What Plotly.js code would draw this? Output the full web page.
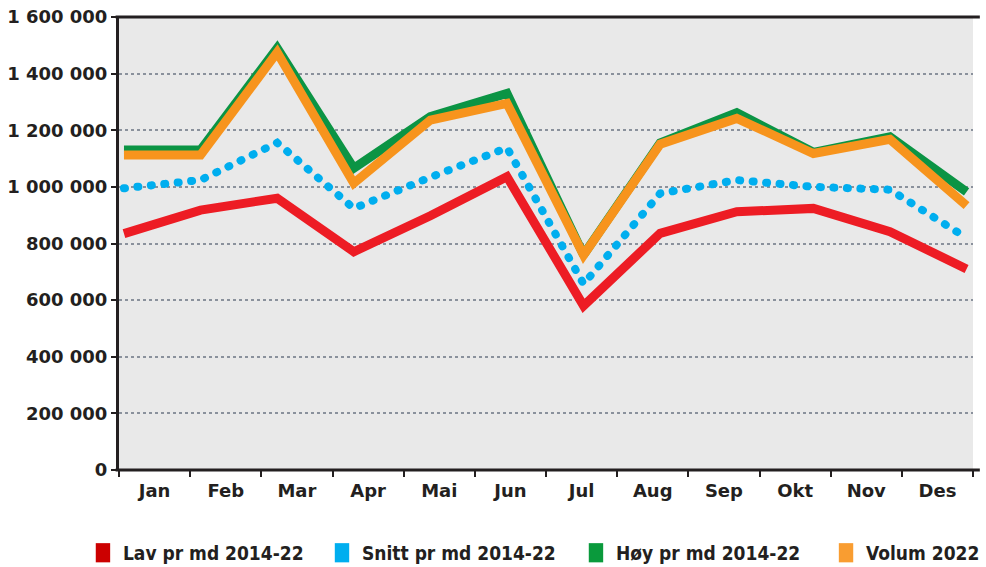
<!DOCTYPE html>
<html>
<head>
<meta charset="utf-8">
<script src="https://cdn.plot.ly/plotly-3.0.1.min.js"></script>
<style>
  html, body { margin: 0; padding: 0; background: #ffffff; }
  #chart { width: 986px; height: 567px; }
  .scatterlayer .trace:nth-child(2) .js-line { stroke-linecap: round; }
  .legendpoints path { transform: translate(20px, 0px) scale(1.2, 1.6); }
</style>
</head>
<body>
<div id="chart"></div>
<script>
// Category labels
const months = ["Jan", "Feb", "Mar", "Apr", "Mai", "Jun", "Jul", "Aug", "Sep", "Okt", "Nov", "Des"];

// Series values
const lav    = [835000, 918000, 960000, 771000, 898000, 1036000, 580000, 836000, 912000, 924000, 842000, 710000];
const snitt  = [995000, 1024000, 1156000, 924000, 1034000, 1138000, 657000, 977000, 1024000, 1000000, 990000, 820000];
const hoy    = [1130000, 1130000, 1490000, 1066000, 1248000, 1330000, 760000, 1155000, 1262000, 1122000, 1177000, 982000];
const volum  = [1113000, 1113000, 1475000, 1013000, 1236000, 1295000, 759000, 1151000, 1242000, 1118000, 1168000, 934000];

const seriesNames = ["Lav pr md 2014-22", "Snitt pr md 2014-22", "Høy pr md 2014-22", "Volum 2022"];
const yTicks = [0, 200000, 400000, 600000, 800000, 1000000, 1200000, 1400000, 1600000];

const idx = months.map((m, i) => i);
const dark = "#231f20";
const colors = { lav: "#ed1c24", snitt: "#00aeef", hoy: "#0b9444", volum: "#f7941d" };
const legendColors = ["#cc0000", "#00aeef", "#0a9a3c", "#f99d31"];

const traces = [
  { type: "scatter", mode: "lines", x: idx, y: lav, xaxis: "x", yaxis: "y",
    line: { color: colors.lav, width: 9 }, showlegend: false, hoverinfo: "skip" },
  { type: "scatter", mode: "lines", x: idx, y: snitt, xaxis: "x", yaxis: "y",
    line: { color: colors.snitt, width: 8, dash: "1px,12.5px" }, showlegend: false, hoverinfo: "skip" },
  { type: "scatter", mode: "lines", x: idx, y: hoy, xaxis: "x", yaxis: "y",
    line: { color: colors.hoy, width: 9 }, showlegend: false, hoverinfo: "skip" },
  { type: "scatter", mode: "lines", x: idx, y: volum, xaxis: "x", yaxis: "y",
    line: { color: colors.volum, width: 9 }, showlegend: false, hoverinfo: "skip" }
];

// legend-only square swatches, one small legend per series
const legendIds = ["legend", "legend2", "legend3", "legend4"];
seriesNames.forEach((name, i) => {
  traces.push({ type: "bar", x: [null], y: [null], xaxis: "x2", yaxis: "y",
    name: name, marker: { color: legendColors[i] }, showlegend: true, hoverinfo: "skip",
    legend: legendIds[i] });
});

const legendX = [-0.0422, 0.2377, 0.5351, 0.8279];
function makeLegend(x) {
  return {
    orientation: "h", x: x, xanchor: "left", y: -0.183, yanchor: "middle",
    font: { family: "DejaVu Sans Condensed, DejaVu Sans", size: 19, weight: 700, color: dark },
    bgcolor: "rgba(0,0,0,0)", itemclick: false, itemdoubleclick: false
  };
}

const layout = {
  width: 986, height: 567,
  margin: { l: 119, r: 13, t: 17, b: 97, autoexpand: false },
  paper_bgcolor: "#ffffff",
  plot_bgcolor: "#e9e9e9",
  separators: ", ",
  showlegend: true,
  xaxis: {
    type: "linear", range: [-0.065, 11.084], visible: false, fixedrange: true
  },
  xaxis2: {
    type: "linear", overlaying: "x", anchor: "y", side: "bottom",
    range: [-0.5, 11.5],
    tickmode: "array", tickvals: idx, ticktext: months,
    ticks: "", showgrid: false, zeroline: false, showline: false,
    minor: { tickmode: "linear", tick0: -0.5, dtick: 1, ticks: "outside", ticklen: 6, tickwidth: 2, tickcolor: dark, showgrid: false },
    tickfont: { family: "DejaVu Sans", size: 18, weight: 700, color: dark },
    ticklabelstandoff: 8,
    fixedrange: true
  },
  yaxis: {
    range: [0, 1600000],
    tickmode: "array", tickvals: yTicks, tickformat: ",d",
    ticks: "outside", ticklen: 5, tickwidth: 2, tickcolor: dark,
    showline: true, linewidth: 3, linecolor: dark,
    showgrid: true, gridcolor: "#8a919c", gridwidth: 2, griddash: "dot",
    zeroline: false,
    tickfont: { family: "DejaVu Sans", size: 18, weight: 700, color: dark },
    fixedrange: true
  },
  shapes: [
    { type: "line", xref: "paper", yref: "paper", x0: -0.004, x1: 1.008, y0: 1, y1: 1,
      line: { color: dark, width: 3 } },
    { type: "line", xref: "paper", yref: "paper", x0: -0.004, x1: 1.008, y0: 0, y1: 0,
      line: { color: dark, width: 3 } }
  ],
  legend: makeLegend(legendX[0]),
  legend2: makeLegend(legendX[1]),
  legend3: makeLegend(legendX[2]),
  legend4: makeLegend(legendX[3]),
  hovermode: false
};

Plotly.newPlot("chart", traces, layout, { displayModeBar: false, staticPlot: true });
</script>
</body>
</html>
